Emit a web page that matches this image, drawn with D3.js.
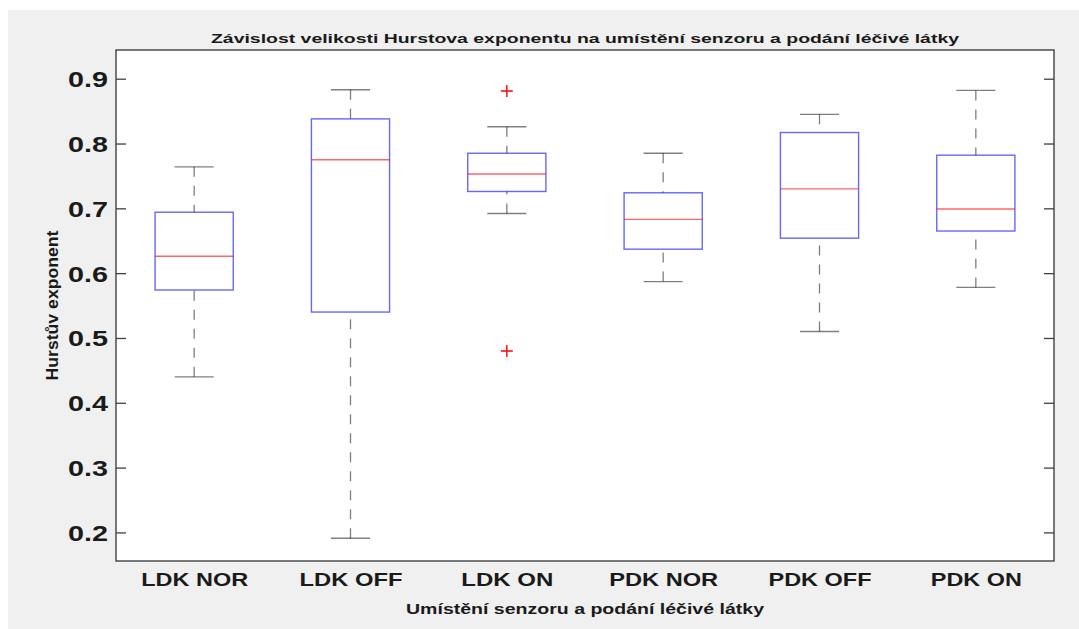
<!DOCTYPE html>
<html lang="cs">
<head>
    <meta charset="utf-8">
    <title>Hurstův exponent</title>
    <script src="https://cdn.jsdelivr.net/npm/d3@7"></script>
    <style>
        body { margin: 0; background: #ffffff; }
        svg { display: block; }
        text { font-family: "Liberation Sans", Arial, sans-serif; fill: #1a1a1a; }
    </style>
</head>
<body>
    <svg width="1079" height="629"></svg>

    <script>
        // data
        var categories = ["LDK NOR", "LDK OFF", "LDK ON", "PDK NOR", "PDK OFF", "PDK ON"];
        var whiskerLow = [0.440, 0.191, 0.692, 0.587, 0.510, 0.578];
        var q1 = [0.574, 0.540, 0.726, 0.637, 0.654, 0.665];
        var median = [0.626, 0.775, 0.753, 0.683, 0.730, 0.699];
        var q3 = [0.694, 0.838, 0.785, 0.724, 0.817, 0.782];
        var whiskerHigh = [0.764, 0.883, 0.826, 0.785, 0.845, 0.882];
        var outliers = [[], [], [0.881, 0.480], [], [], []];
        var yTicks = [0.2, 0.3, 0.4, 0.5, 0.6, 0.7, 0.8, 0.9];
        var xLabelWidths = [107, 103, 92, 109, 103, 91];

        var svg = d3.select("svg");
        var plotLeft = 116, plotRight = 1054, plotTop = 50, plotBottom = 561;

        // grey figure background
        svg.append("rect").attr("x", 8).attr("y", 10)
            .attr("width", 1071).attr("height", 619).attr("fill", "#f0f0f0");
        svg.append("rect").attr("x", plotLeft).attr("y", plotTop)
            .attr("width", plotRight - plotLeft).attr("height", plotBottom - plotTop).attr("fill", "#ffffff");

        var x = d3.scalePoint().domain(categories).range([plotLeft, plotRight]).padding(0.5);
        var step = x.step();
        var y = d3.scaleLinear().domain([0.1559, 0.9443]).range([plotBottom, plotTop]);

        var boxes = svg.append("g").selectAll("g.box")
            .data(categories)
            .enter().append("g").attr("class", "box");

        // whiskers, drawn from the cap toward the box
        boxes.append("line")
            .attr("x1", function (d) { return x(d); })
            .attr("x2", function (d) { return x(d); })
            .attr("y1", function (d, i) { return y(whiskerHigh[i]); })
            .attr("y2", function (d, i) { return y(q3[i]); })
            .attr("stroke", "#000").attr("stroke-opacity", 0.5)
            .attr("stroke-width", 1.3).attr("stroke-dasharray", "10,9");
        boxes.append("line")
            .attr("x1", function (d) { return x(d); })
            .attr("x2", function (d) { return x(d); })
            .attr("y1", function (d, i) { return y(whiskerLow[i]); })
            .attr("y2", function (d, i) { return y(q1[i]); })
            .attr("stroke", "#000").attr("stroke-opacity", 0.5)
            .attr("stroke-width", 1.3).attr("stroke-dasharray", "10,9");

        // caps
        [whiskerHigh, whiskerLow].forEach(function (arr) {
            boxes.append("line")
                .attr("x1", function (d) { return x(d) - step * 0.125; })
                .attr("x2", function (d) { return x(d) + step * 0.125; })
                .attr("y1", function (d, i) { return y(arr[i]); })
                .attr("y2", function (d, i) { return y(arr[i]); })
                .attr("stroke", "#000").attr("stroke-opacity", 0.5).attr("stroke-width", 1.4);
        });

        // box
        boxes.append("rect")
            .attr("x", function (d) { return x(d) - step * 0.25; })
            .attr("width", step * 0.5)
            .attr("y", function (d, i) { return y(q3[i]); })
            .attr("height", function (d, i) { return y(q1[i]) - y(q3[i]); })
            .attr("fill", "none").attr("stroke", "#0000ff")
            .attr("stroke-opacity", 0.6).attr("stroke-width", 1.4);

        // median
        boxes.append("line")
            .attr("x1", function (d) { return x(d) - step * 0.25; })
            .attr("x2", function (d) { return x(d) + step * 0.25; })
            .attr("y1", function (d, i) { return y(median[i]); })
            .attr("y2", function (d, i) { return y(median[i]); })
            .attr("stroke", "#ff0000").attr("stroke-opacity", 0.6).attr("stroke-width", 1.4);

        // outliers as red plus signs
        boxes.each(function (d, i) {
            var g = d3.select(this);
            outliers[i].forEach(function (v) {
                g.append("path")
                    .attr("d", "M" + (x(d) - 6) + "," + y(v) + "h12M" + x(d) + "," + (y(v) - 6) + "v12")
                    .attr("stroke", "#ff0000").attr("stroke-width", 1.4).attr("fill", "none");
            });
        });

        // axes
        var yAxis = svg.append("g").attr("transform", "translate(" + plotLeft + ",0)")
            .call(d3.axisLeft(y).tickValues(yTicks).tickSize(-10).tickPadding(8).tickFormat(d3.format(".1f")));
        var yAxisR = svg.append("g").attr("transform", "translate(" + plotRight + ",0)")
            .call(d3.axisRight(y).tickValues(yTicks).tickSize(-10).tickFormat(""));
        [yAxis, yAxisR].forEach(function (a) {
            a.select(".domain").remove();
            a.selectAll(".tick line").attr("stroke", "#404040").attr("stroke-width", 1.3);
        });
        yAxis.selectAll(".tick text")
            .attr("font-size", 22).attr("font-weight", "bold").attr("fill", "#262626")
            .attr("dy", "0.36em")
            .attr("textLength", 40).attr("lengthAdjust", "spacingAndGlyphs");

        var xAxis = svg.append("g").attr("transform", "translate(0," + plotBottom + ")")
            .call(d3.axisBottom(x).tickSize(0).tickPadding(12));
        xAxis.select(".domain").remove();
        xAxis.selectAll(".tick text")
            .attr("font-size", 19).attr("font-weight", "bold").attr("fill", "#1a1a1a")
            .attr("textLength", function (d, i) { return xLabelWidths[i]; })
            .attr("lengthAdjust", "spacingAndGlyphs");

        // plot frame
        svg.append("rect").attr("x", plotLeft).attr("y", plotTop)
            .attr("width", plotRight - plotLeft).attr("height", plotBottom - plotTop)
            .attr("fill", "none").attr("stroke", "#404040").attr("stroke-width", 1.4);

        // titles
        svg.append("text")
            .attr("x", (plotLeft + plotRight) / 2).attr("y", 43)
            .attr("text-anchor", "middle").attr("font-size", 13).attr("font-weight", "bold")
            .attr("textLength", 748).attr("lengthAdjust", "spacingAndGlyphs")
            .text("Závislost velikosti Hurstova exponentu na umístění senzoru a podání léčivé látky");
        svg.append("text")
            .attr("x", (plotLeft + plotRight) / 2).attr("y", 614)
            .attr("text-anchor", "middle").attr("font-size", 15).attr("font-weight", "bold")
            .attr("textLength", 358).attr("lengthAdjust", "spacingAndGlyphs")
            .text("Umístění senzoru a podání léčivé látky");
        svg.append("text")
            .attr("transform", "translate(58," + (plotTop + plotBottom) / 2 + ") rotate(-90)")
            .attr("text-anchor", "middle").attr("font-size", 16).attr("font-weight", "bold")
            .attr("textLength", 150).attr("lengthAdjust", "spacingAndGlyphs")
            .text("Hurstův exponent");
    </script>
</body>
</html>
